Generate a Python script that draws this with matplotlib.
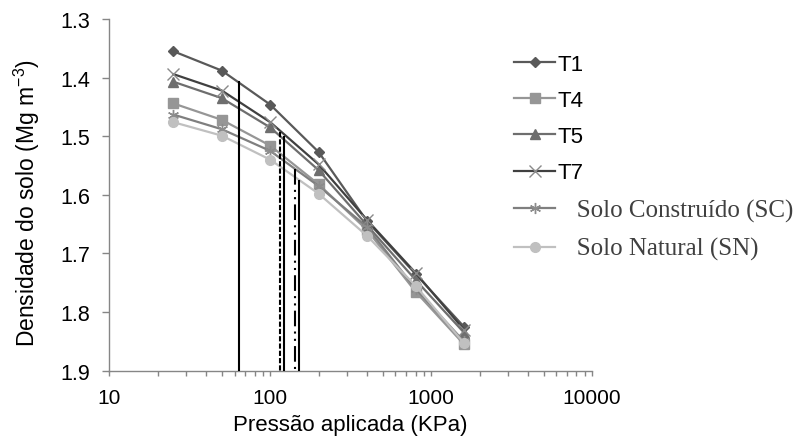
import matplotlib
matplotlib.use("Agg")
import matplotlib.pyplot as plt
from matplotlib import ticker

plt.rcParams['font.family'] = ['Liberation Sans', 'DejaVu Sans']
plt.rcParams['mathtext.fontset'] = 'custom'
plt.rcParams['mathtext.rm'] = 'Liberation Sans'
plt.rcParams['mathtext.it'] = 'Liberation Sans'

# pressure steps (KPa)
pressao = [25, 50, 100, 200, 400, 800, 1600]

# soil bulk density per treatment (Mg m-3)
t1 = [1.355, 1.388, 1.446, 1.527, 1.645, 1.735, 1.825]
t4 = [1.444, 1.472, 1.516, 1.582, 1.660, 1.765, 1.855]
t5 = [1.407, 1.435, 1.485, 1.558, 1.652, 1.745, 1.835]
t7 = [1.394, 1.422, 1.476, 1.548, 1.643, 1.733, 1.830]
sc = [1.463, 1.488, 1.525, 1.585, 1.655, 1.760, 1.850]
sn = [1.476, 1.499, 1.540, 1.598, 1.670, 1.755, 1.853]

labels = ['T1', 'T4', 'T5', 'T7', '   Solo Construído (SC)', '   Solo Natural (SN)']

# preconsolidation pressure markers: x and where the line starts on the curve
vline_x = [64, 115, 121, 143.5, 150]
vline_top = [1.408, 1.493, 1.502, 1.556, 1.576]

xticks = [10, 100, 1000, 10000]
yticks = [1.3, 1.4, 1.5, 1.6, 1.7, 1.8, 1.9]

fig = plt.figure(figsize=(8.11, 4.39), dpi=100)
ax = fig.add_axes([0.1348, 0.1533, 0.5952, 0.8011])

ax.plot(pressao, t1, color='#595959', lw=1.6, marker='D', ms=5.5, mfc='#595959', mec='#595959', label=labels[0])
ax.plot(pressao, t4, color='#969696', lw=1.6, marker='s', ms=7, mfc='#969696', mec='#969696', label=labels[1])
ax.plot(pressao, t5, color='#6e6e6e', lw=1.6, marker='^', ms=7.5, mfc='#6e6e6e', mec='#6e6e6e', label=labels[2])
ax.plot(pressao, t7, color='#404040', lw=1.6, marker='x', ms=8, mec='#8a8a8a', mew=1.0, label=labels[3])
ax.plot(pressao, sc, color='#7f7f7f', lw=1.6, marker=(6, 2, 0), ms=8, mec='#8c8c8c', mew=1.0, label=labels[4])
ax.plot(pressao, sn, color='#c0c0c0', lw=1.6, marker='o', ms=7, mfc='#c0c0c0', mec='#c0c0c0', label=labels[5])

styles = ['-', (0, (2.5, 1)), '-', (0, (7.5, 2.5, 1, 2.5, 1, 2.5)), '-']
for x, top, ls in zip(vline_x, vline_top, styles):
    ax.plot([x, x], [top, 1.9], color='black', lw=1.5, ls=ls, zorder=5)

ax.set_xscale('log')
ax.set_xlim(10, 10000)
ax.set_ylim(1.9, 1.3)
ax.set_xticks(xticks)
ax.xaxis.set_major_formatter(ticker.FuncFormatter(lambda v, p: f"{v:.0f}"))
ax.xaxis.set_minor_locator(ticker.LogLocator(base=10, subs=range(2, 10), numticks=20))
ax.xaxis.set_minor_formatter(ticker.NullFormatter())
ax.set_yticks(yticks)
ax.yaxis.set_major_formatter(ticker.FormatStrFormatter('%.1f'))

for s in ['top', 'right']:
    ax.spines[s].set_visible(False)
for s in ['left', 'bottom']:
    ax.spines[s].set_color('#868686')
    ax.spines[s].set_linewidth(1.0)

ax.tick_params(axis='x', which='both', direction='out', length=3.6, width=1, color='#868686',
               labelsize=15, pad=9)
ax.tick_params(axis='y', which='major', direction='out', length=5, width=1, color='#868686',
               labelsize=15.5, pad=9)

ax.set_xlabel('Pressão aplicada (KPa)', fontsize=16, va='top')
ax.xaxis.set_label_coords(0.5, -0.122)
ax.set_ylabel('Densidade do solo (Mg m$^{-3}$)', fontsize=16.5)
ax.yaxis.set_label_coords(-0.14, 0.48)

leg = ax.legend(loc='upper left', bbox_to_anchor=(514 / 811, 1 - 55 / 439),
                bbox_transform=fig.transFigure, frameon=False, borderpad=0,
                borderaxespad=0, handlelength=1.85, handletextpad=0.12,
                labelspacing=0.68, fontsize=16)
for t in leg.get_texts()[4:]:
    t.set_fontfamily('Liberation Serif')
    t.set_fontsize(18)
    t.set_color('#404040')

fig.savefig('out.png', dpi=100)
